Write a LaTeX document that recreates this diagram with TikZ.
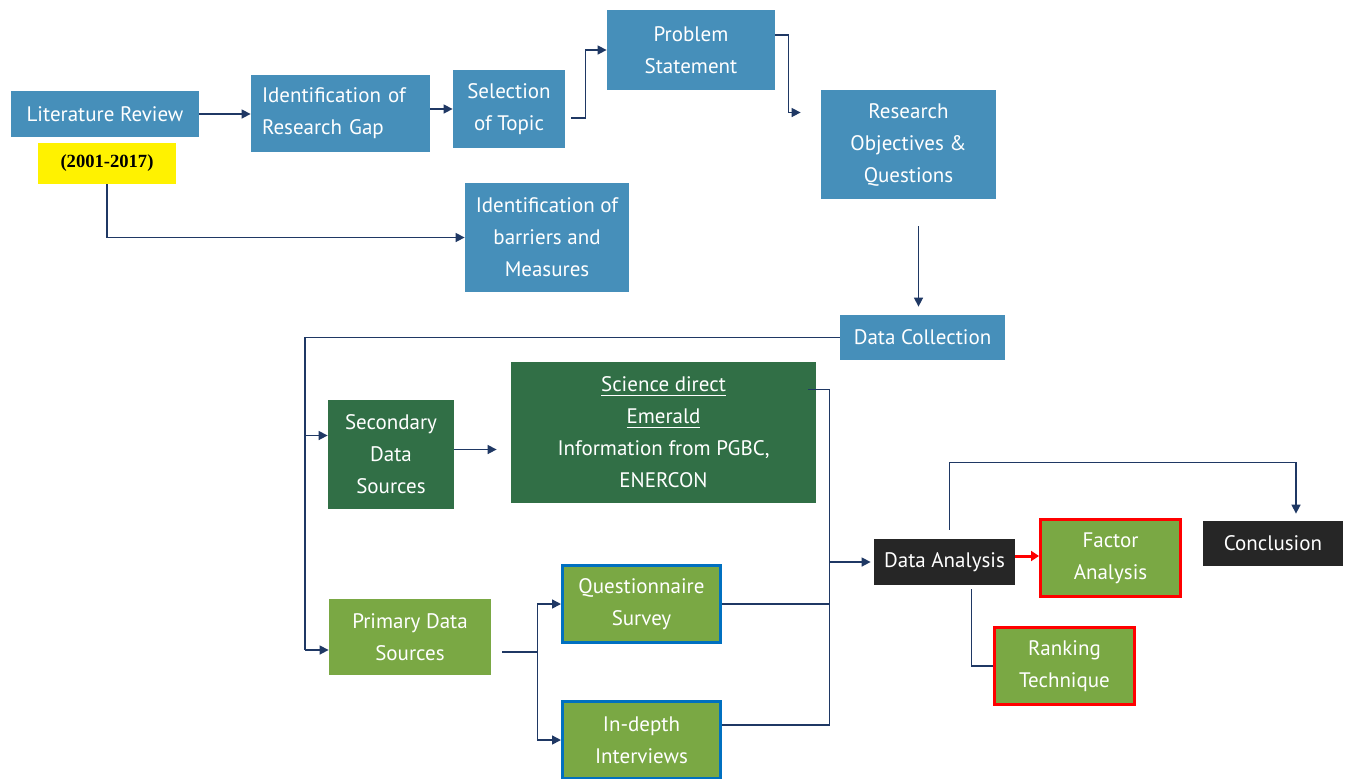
\documentclass[tikz,border=0pt]{standalone}
\usepackage{fontspec}
\setmainfont{PT Sans}
\newfontfamily\timesf{Liberation Serif}
\usetikzlibrary{arrows.meta}
\definecolor{bluebox}{RGB}{70,143,186}
\definecolor{dgreen}{RGB}{49,111,70}
\definecolor{lgreen}{RGB}{122,168,68}
\definecolor{bbord}{RGB}{0,112,192}
\definecolor{navy}{RGB}{31,56,100}
\definecolor{blk}{RGB}{38,38,38}
\begin{document}
\begin{tikzpicture}[x=0.5pt,y=-0.5pt,
  box/.style={rectangle, inner sep=0pt, text=white, align=center, font=\fontsize{10.5}{16}\selectfont},
  bluebx/.style={box, fill=bluebox},
  dgbx/.style={box, fill=dgreen},
  lgbx/.style={box, fill=lgreen},
  qbx/.style={box, fill=lgreen, draw=bbord, line width=1.5pt},
  rbx/.style={box, fill=lgreen, draw=red, line width=1.5pt},
  kbx/.style={box, fill=blk},
  conn/.style={draw=navy, line width=0.75pt},
  arr/.style={conn, -{Triangle[length=4.5pt,width=4.5pt]}},
]
\useasboundingbox (0,0) rectangle (1348,778);
\fill[white] (0,0) rectangle (1348,778);

% nodes
\node[bluebx, minimum width=94pt, minimum height=23pt] (lit) at (105,114) {Literature Review};
\node[box, fill=yellow, text=black, minimum width=69pt, minimum height=20.5pt,
      font=\timesf\bfseries\fontsize{9.3}{11}\selectfont] (yr) at (107,163.5) {(2001-2017)};
\node[bluebx, text width=78.5pt, align=left, inner xsep=5.5pt, minimum height=38.5pt] (gap) at (340.5,113.5) {Identification of\\Research Gap};
\node[bluebx, minimum width=56pt, minimum height=39pt] (sel) at (509,109) {Selection\\of Topic};
\node[bluebx, minimum width=84pt, minimum height=40pt] (prob) at (691,50) {Problem\\Statement};
\node[bluebx, minimum width=87.5pt, minimum height=54.5pt] (res) at (908.5,144.5) {Research\\Objectives \&\\Questions};
\node[bluebx, minimum width=82pt, minimum height=54.5pt] (bar) at (547,237.5) {Identification of\\barriers and\\Measures};
\node[bluebx, minimum width=82.5pt, minimum height=22.5pt] (dc) at (922.5,337.5) {Data Collection};
\node[dgbx, minimum width=63pt, minimum height=54.5pt] (sec) at (391,454.5) {Secondary\\Data\\Sources};
\node[dgbx, minimum width=152.5pt, minimum height=70.5pt] (sci) at (663.5,432.5) {\underline{Science direct}\\\underline{Emerald}\\Information from PGBC,\\ENERCON};
\node[lgbx, minimum width=81pt, minimum height=38pt] (pri) at (410,637) {Primary Data\\Sources};
\node[qbx, minimum width=79pt, minimum height=38.5pt] (qs) at (641.5,604) {Questionnaire\\Survey};
\node[qbx, minimum width=79pt, minimum height=38.5pt] (idi) at (641.5,740) {In-depth\\Interviews};
\node[kbx, minimum width=70.5pt, minimum height=23pt] (da) at (944.5,562) {Data Analysis};
\node[rbx, minimum width=70pt, minimum height=38.5pt] (fa) at (1110.5,558) {Factor\\Analysis};
\node[kbx, minimum width=70pt, minimum height=22.5pt] (con) at (1273,543.5) {Conclusion};
\node[rbx, minimum width=70pt, minimum height=38.5pt] (rk) at (1064.5,666) {Ranking\\Technique};

% connectors
\draw[arr] (lit.east) -- (lit.east -| gap.west);
\draw[arr] (gap.east |- sel.west) -- (sel.west);
\draw[arr] ([shift={(6,9)}]sel.east) -- ++(14,0) |- (prob.west);
\draw[arr] ([shift={(0,-15)}]prob.east) -- ++(13,0) |- ([shift={(-20,-32)}]res.west);
\coordinate (a1) at ([shift={(10,27)}]res.south);
\draw[arr, shorten >=4pt] (a1) -- (a1 |- dc.north);
\draw[arr] (yr.south) |- (bar.west);

\coordinate (L) at (305,337.5);
\coordinate (priin) at ([shift={(0,13)}]pri.west);
\coordinate (secin) at ([shift={(0,-19)}]sec.west);
\draw[conn] (dc.west) -| (L |- priin);
\draw[arr] (L |- priin) -- (priin);
\draw[arr] (L |- secin) -- (secin);
\draw[arr] ([shift={(0,-5)}]sec.east) -- ([shift={(-14,17)}]sci.west);

\coordinate (J) at ([xshift=-22pt]da.west);
\coordinate (idout) at ([shift={(0,-15)}]idi.east);
\draw[conn] ([shift={(-8,-43)}]sci.east) -| (J |- idout) -- (idout);
\draw[conn] (qs.east) -- (qs.east -| J);
\draw[arr, shorten >=1.5pt] (J) -- (da.west);

\draw[conn] ([shift={(11,15)}]pri.east) -- ++(35,0) coordinate (K);
\draw[arr] (K) |- (qs.west);
\draw[arr] (K) |- (idi.west);

\draw[red, line width=1.5pt, -{Triangle[length=4pt,width=5pt]}] ([shift={(0,-6)}]da.east) -- ([shift={(0,-6)}]da.east -| fa.west);
\draw[arr] ([shift={(5,-9)}]da.north) -- ++(0,-67) -| ([shift={(23,-7)}]con.north);
\draw[conn] ([shift={(27,4)}]da.south) |- (rk.west);
\end{tikzpicture}
\end{document}
